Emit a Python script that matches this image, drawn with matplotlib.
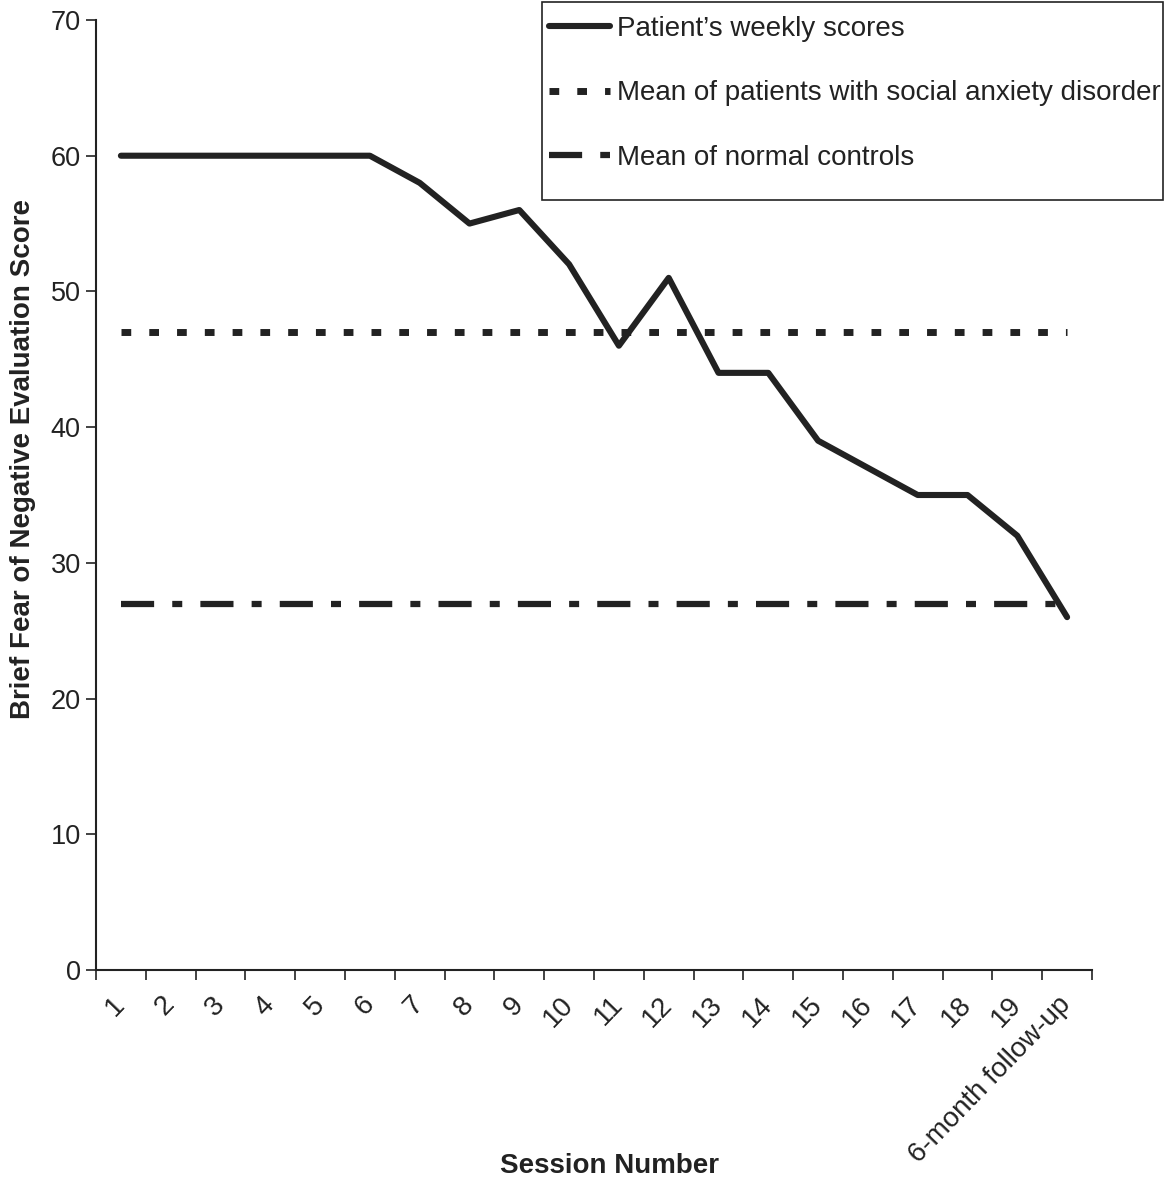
import matplotlib
matplotlib.use("Agg")
import matplotlib.pyplot as plt
from matplotlib.patches import Rectangle
import numpy as np

sessions = [str(i) for i in range(1, 20)] + ["6-month follow-up"]
weekly_scores = [60, 60, 60, 60, 60, 60, 58, 55, 56, 52, 46, 51, 44, 44, 39, 37, 35, 35, 32, 26]
sad_mean = 47
control_mean = 27

plt.rcParams["font.family"] = ["Liberation Sans", "DejaVu Sans"]

W, H = 1168, 1181
fig = plt.figure(figsize=(W / 100, H / 100), dpi=100)
ax = fig.add_axes([96 / W, 1 - 970 / H, (1092 - 96) / W, (970 - 20) / H])

x = np.arange(len(sessions))
ink = "#222222"

ax.plot(x, weekly_scores, color=ink, lw=4.4, solid_capstyle="round",
        solid_joinstyle="round", label="Patient\u2019s weekly scores", zorder=3)
ax.plot([x[0], x[-1]], [sad_mean, sad_mean], color=ink, lw=5,
        dashes=(1.4, 2.6), dash_capstyle="butt",
        label="Mean of patients with social anxiety disorder")
ax.plot([x[0], x[-1]], [control_mean, control_mean], color=ink, lw=4.5,
        dashes=(5.3, 2.9, 1.6, 2.9), dash_capstyle="butt",
        label="Mean of normal controls")

ax.set_xlim(-0.5, len(sessions) - 0.5)
ax.set_ylim(0, 70)
ax.set_yticks(range(0, 71, 10))
ax.tick_params(axis="y", labelsize=19.5, length=7, width=1.2, color=ink, labelcolor=ink, pad=4)

# boundaries get the ticks, centres get the labels
ax.set_xticks(np.arange(-0.5, len(sessions), 1.0))
ax.set_xticklabels([])
ax.set_xticks(x, minor=True)
ax.set_xticklabels(sessions, minor=True, rotation=46, ha="right", va="center",
                   rotation_mode="anchor", fontsize=20, color=ink)
ax.tick_params(axis="x", which="major", length=7, width=1.2, color=ink)
ax.tick_params(axis="x", which="minor", length=0, pad=22)

for side in ["top", "right"]:
    ax.spines[side].set_visible(False)
for side in ["left", "bottom"]:
    ax.spines[side].set_color(ink)
    ax.spines[side].set_linewidth(1.5)

ax.set_ylabel("Brief Fear of Negative Evaluation Score", fontsize=20,
              fontweight="bold", color=ink)
ax.yaxis.set_label_coords((36 - 96) / (1092 - 96), (970 - 459) / (970 - 20))
ax.set_xlabel("Session Number", fontsize=20, fontweight="bold", color=ink)
ax.xaxis.set_label_coords((610 - 96) / (1092 - 96), -(1153 - 970) / (970 - 20))

# legend text without frame, box drawn separately (it has extra room at the bottom)
leg = ax.legend(loc="upper left", bbox_to_anchor=(549 / W, 1 - 16 / H),
                bbox_transform=fig.transFigure, fontsize=20, frameon=False,
                handlelength=2.2, handletextpad=0.25,
                labelspacing=1.38, borderpad=0, borderaxespad=0)
for t in leg.get_texts():
    t.set_color(ink)
fig.patches.append(Rectangle((542 / W, 1 - 200 / H), (1163 - 542) / W, 198 / H,
                             transform=fig.transFigure, fill=False,
                             edgecolor=ink, linewidth=1.2))

fig.savefig("out.png", dpi=100)
